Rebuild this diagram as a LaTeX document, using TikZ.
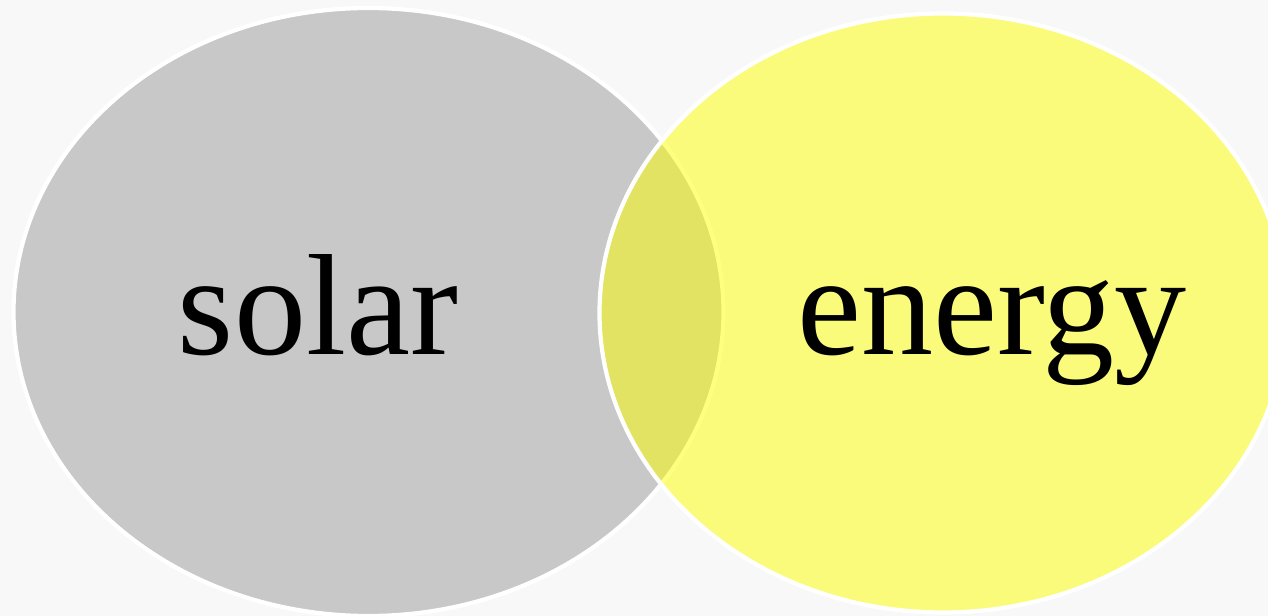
\documentclass[tikz,border=0pt]{standalone}
\usepackage{xcolor}
\usepackage{tikz}
\usepackage{fontspec}
\setmainfont{Liberation Serif}
\usetikzlibrary{shapes.geometric}
\definecolor{venn_grey}{RGB}{200,200,200}
\definecolor{venn_yellow}{RGB}{255,255,0}
\definecolor{venn_back}{RGB}{248,248,248}

\begin{document}
\begin{tikzpicture}[
    setshape/.style={ellipse, draw=white, line width=2.4pt, inner sep=0pt},
    setlabel/.style={anchor=base, font=\fontsize{82}{90}\selectfont, text=black}
  ]
    % Background and frame
    \fill[venn_back] (0,0) rectangle (25.36,12.32);
    \useasboundingbox (0,0) rectangle (25.36,12.32);
    \clip (0,0) rectangle (25.36,12.32);

    % Sets
    \node[setshape, fill=venn_grey, minimum width=14.2cm, minimum height=12.16cm] (solarset) at (7.37,6.08) {};
    \node[setshape, fill=venn_yellow, fill opacity=0.5, minimum width=13.74cm, minimum height=11.98cm] (energyset) at (18.86,6.06) {};

    % Labels
    \node[setlabel] (solarlabel) at (6.36,5.22) {solar};
    \node[setlabel] (energylabel) at (19.84,5.22) {energy};
\end{tikzpicture}
\end{document}
